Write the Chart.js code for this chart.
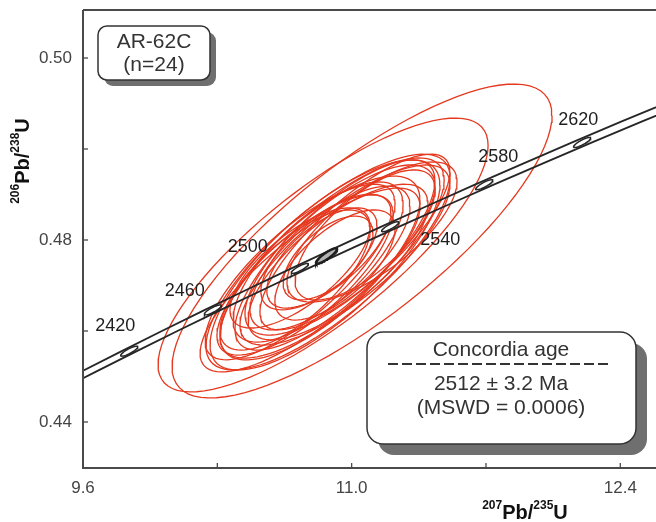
<!DOCTYPE html>
<html>
<head>
<meta charset="utf-8">
<script src="https://cdn.jsdelivr.net/npm/chart.js@4.4.1/dist/chart.umd.min.js"></script>
<style>
  html, body { margin: 0; padding: 0; background: #fff; }
  canvas { display: block; }
</style>
</head>
<body>
<canvas id="concordiaChart" width="656" height="522" style="width:656px;height:522px"></canvas>
<script>
// dados (AR-62C, n=24)

// eixos
const xTicks = [9.6, 10.3, 11.0, 11.7, 12.4];
const xTickLabels = ['9.6', '', '11.0', '', '12.4'];
const yTicks = [0.44, 0.46, 0.48, 0.50, 0.52];
const yTickLabels = ['0.44', '', '0.48', '', '0.50'];

// elipses de erro: 207Pb/235U, erro, 206Pb/238U, erro, rho
const pb207u235 = [11.054, 10.851, 10.877, 10.898, 10.861, 10.913, 10.835, 10.939, 10.825, 10.887, 11.070, 10.705,
                   10.929, 10.866, 11.106, 10.757, 10.845, 10.913, 10.731, 10.965, 10.731, 11.017, 10.783, 10.877];
const pb207u235Err = [0.990, 0.860, 0.636, 0.584, 0.599, 0.521, 0.521, 0.495, 0.443, 0.417, 0.365, 0.391,
                      0.469, 0.339, 0.443, 0.459, 0.287, 0.313, 0.365, 0.547, 0.495, 0.495, 0.573, 0.234];
const pb206u238 = [0.47978, 0.47670, 0.47516, 0.47604, 0.47451, 0.47670, 0.47385, 0.47780, 0.47516, 0.47604, 0.48110, 0.47121,
                   0.47516, 0.47736, 0.48176, 0.47231, 0.47604, 0.47451, 0.47385, 0.47670, 0.47297, 0.47956, 0.47121, 0.47604];
const pb206u238Err = [0.0345, 0.0301, 0.0237, 0.0220, 0.0231, 0.0209, 0.0202, 0.0187, 0.0176, 0.0158, 0.0143, 0.0154,
                      0.0171, 0.0127, 0.0154, 0.0176, 0.0110, 0.0121, 0.0132, 0.0198, 0.0193, 0.0193, 0.0202, 0.0092];
const rhoVals = [0.80, 0.80, 0.78, 0.78, 0.76, 0.78, 0.74, 0.75, 0.72, 0.72, 0.70, 0.72,
                 0.74, 0.68, 0.72, 0.76, 0.65, 0.66, 0.70, 0.78, 0.78, 0.80, 0.80, 0.60];

// curva concórdia (Ma)
const concordiaAges = [2360, 2380, 2400, 2420, 2440, 2460, 2480, 2500, 2520, 2540, 2560, 2580, 2600, 2620, 2640, 2660, 2680, 2700];
const markerAges = [2420, 2460, 2500, 2540, 2580, 2620];
const lambda238 = 1.55125e-10;
const lambda235 = 9.8485e-10;
const lambda235Err = 1.5e-12;

// idade concórdia
const concordiaAge = 2512;
const concordiaAgeErr = 3.2;
const mswd = '0.0006';

// ---------------------------------------------------------------

const vermelho = '#e5391f';
const fonte = '"Liberation Sans", Arial, sans-serif';

function pontosElipse(cx, cy, sx, sy, rho) {
    const pts = [];
    const k = Math.sqrt(1 - rho * rho);
    for (let i = 0; i <= 90; i++) {
        const t = 2 * Math.PI * i / 90;
        pts.push({ x: cx + sx * Math.cos(t), y: cy + sy * (rho * Math.cos(t) + k * Math.sin(t)) });
    }
    return pts;
}

function pontoConcordia(idadeMa, dl) {
    const t = idadeMa * 1e6;
    return { x: Math.exp((lambda235 + dl) * t) - 1, y: Math.exp(lambda238 * t) - 1 };
}

const datasets = [];

// elipses vermelhas
for (let i = 0; i < pb207u235.length; i++) {
    datasets.push({
        data: pontosElipse(pb207u235[i], pb206u238[i], pb207u235Err[i], pb206u238Err[i], rhoVals[i]),
        showLine: true, pointRadius: 0, borderColor: vermelho, borderWidth: 1.3,
        fill: false, tension: 0, order: 4
    });
}

// faixa da concórdia (duas linhas)
[-lambda235Err, lambda235Err].forEach(dl => {
    datasets.push({
        data: concordiaAges.map(a => pontoConcordia(a, dl)),
        showLine: true, pointRadius: 0, borderColor: '#262626', borderWidth: 1.8,
        fill: false, tension: 0, order: 3
    });
});

// marcadores de idade
markerAges.forEach(a => {
    const c = pontoConcordia(a, 0);
    datasets.push({
        data: pontosElipse(c.x, c.y, 0.045, 0.0011, 0.86),
        showLine: true, pointRadius: 0, borderColor: '#262626', borderWidth: 1.4,
        backgroundColor: '#ffffff', fill: 'shape', tension: 0, order: 2
    });
});

// elipse da idade concórdia
const centroIdade = pontoConcordia(concordiaAge, 0);
datasets.push({
    data: pontosElipse(centroIdade.x, centroIdade.y, 0.055, 0.0017, 0.88),
    showLine: true, pointRadius: 0, borderColor: '#1e1e1e', borderWidth: 2.4,
    backgroundColor: '#b4b4b4', fill: 'shape', tension: 0, order: 1
});

// posição dos rótulos de idade em relação ao marcador (px)
const labelOffsets = [[-14, -25], [-28, -19], [-52, -21], [50, 13], [14, -28], [-4, -22]];

function caixaSombra(ctx, x, y, w, h, r, off) {
    ctx.save();
    ctx.fillStyle = '#6f6f6f';
    ctx.beginPath();
    ctx.roundRect(x + off, y + off, w, h, r);
    ctx.fill();
    ctx.fillStyle = '#ffffff';
    ctx.strokeStyle = '#333';
    ctx.lineWidth = 1.5;
    ctx.beginPath();
    ctx.roundRect(x, y, w, h, r);
    ctx.fill();
    ctx.stroke();
    ctx.restore();
}

function textoComSobrescrito(ctx, partes) {
    // partes: [texto, sobrescrito?]
    let largura = 0;
    partes.forEach(p => {
        ctx.font = p[1] ? 'bold 12px ' + fonte : 'bold 20px ' + fonte;
        largura += ctx.measureText(p[0]).width;
    });
    let x = -largura / 2;
    partes.forEach(p => {
        ctx.font = p[1] ? 'bold 12px ' + fonte : 'bold 20px ' + fonte;
        ctx.fillText(p[0], x, p[1] ? -10 : 0);
        x += ctx.measureText(p[0]).width;
    });
}

const moldura = {
    id: 'moldura',
    afterDatasetsDraw(chart) {
        const ctx = chart.ctx;
        const area = chart.chartArea;
        const xs = chart.scales.x, ys = chart.scales.y;
        ctx.save();

        // eixos
        ctx.strokeStyle = '#4a4a4a';
        ctx.lineWidth = 2;
        ctx.beginPath();
        ctx.moveTo(area.left, area.top);
        ctx.lineTo(area.left, area.bottom);
        ctx.lineTo(area.right, area.bottom);
        ctx.moveTo(area.left, area.top);
        ctx.lineTo(area.right, area.top);
        ctx.stroke();

        // marcas internas
        ctx.lineWidth = 1.3;
        xTicks.forEach(v => {
            const px = xs.getPixelForValue(v);
            ctx.beginPath();
            ctx.moveTo(px, area.bottom);
            ctx.lineTo(px, area.bottom - 5);
            ctx.stroke();
        });
        yTicks.forEach(v => {
            const py = ys.getPixelForValue(v);
            ctx.beginPath();
            ctx.moveTo(area.left, py);
            ctx.lineTo(area.left + 5, py);
            ctx.stroke();
        });

        // rótulos das idades
        ctx.fillStyle = '#1e1e1e';
        ctx.font = '18px ' + fonte;
        ctx.textAlign = 'center';
        ctx.textBaseline = 'middle';
        markerAges.forEach((a, i) => {
            const c = pontoConcordia(a, 0);
            const px = xs.getPixelForValue(c.x) + labelOffsets[i][0];
            const py = ys.getPixelForValue(c.y) + labelOffsets[i][1];
            ctx.fillText(String(a), px, py);
        });

        // caixa da amostra
        caixaSombra(ctx, 98, 26, 112, 54, 9, 6);
        ctx.fillStyle = '#333';
        ctx.font = '21px ' + fonte;
        ctx.fillText('AR-62C', 154, 42);
        ctx.fillText('(n=24)', 154, 65);

        // caixa da idade concórdia
        caixaSombra(ctx, 367, 332, 269, 112, 16, 11);
        ctx.fillStyle = '#333';
        ctx.fillText('Concordia age', 501, 350);
        ctx.strokeStyle = '#333';
        ctx.lineWidth = 2;
        ctx.setLineDash([10, 4]);
        ctx.beginPath();
        ctx.moveTo(388, 364);
        ctx.lineTo(612, 364);
        ctx.stroke();
        ctx.setLineDash([]);
        ctx.fillText(concordiaAge + ' \u00B1 ' + concordiaAgeErr + ' Ma', 501, 384);
        ctx.fillText('(MSWD = ' + mswd + ')', 501, 408);

        // títulos dos eixos
        ctx.fillStyle = '#111';
        ctx.textAlign = 'left';
        ctx.textBaseline = 'alphabetic';
        ctx.save();
        ctx.translate(525, 519);
        textoComSobrescrito(ctx, [['207', true], ['Pb/', false], ['235', true], ['U', false]]);
        ctx.restore();
        ctx.save();
        ctx.translate(29, 161);
        ctx.rotate(-Math.PI / 2);
        textoComSobrescrito(ctx, [['206', true], ['Pb/', false], ['238', true], ['U', false]]);
        ctx.restore();

        ctx.restore();
    }
};

const ctx = document.getElementById('concordiaChart').getContext('2d');
const concordiaChart = new Chart(ctx, {
    type: 'scatter',
    data: { datasets: datasets },
    options: {
        responsive: false,
        animation: false,
        layout: { padding: { top: 10, left: 0, right: 0, bottom: 0 } },
        plugins: { legend: { display: false }, tooltip: { enabled: false } },
        scales: {
            x: {
                type: 'linear', min: 9.6, max: 12.586,
                grid: { display: false, drawTicks: false }, border: { display: false },
                afterBuildTicks: s => { s.ticks = xTicks.map(v => ({ value: v })); },
                afterFit: s => { s.height = 54; s.paddingLeft = 0; s.paddingRight = 0; },
                ticks: {
                    autoSkip: false, maxRotation: 0, padding: 10, color: '#444',
                    font: { family: fonte, size: 17 },
                    callback: (v, i) => xTickLabels[i]
                }
            },
            y: {
                type: 'linear', min: 0.42989, max: 0.53055,
                grid: { display: false, drawTicks: false }, border: { display: false },
                afterBuildTicks: s => { s.ticks = yTicks.map(v => ({ value: v })); },
                afterFit: s => { s.width = 83; s.paddingTop = 0; s.paddingBottom = 0; },
                ticks: {
                    autoSkip: false, padding: 11, color: '#444',
                    font: { family: fonte, size: 17 },
                    callback: (v, i) => yTickLabels[i]
                }
            }
        }
    },
    plugins: [moldura]
});
</script>
</body>
</html>
